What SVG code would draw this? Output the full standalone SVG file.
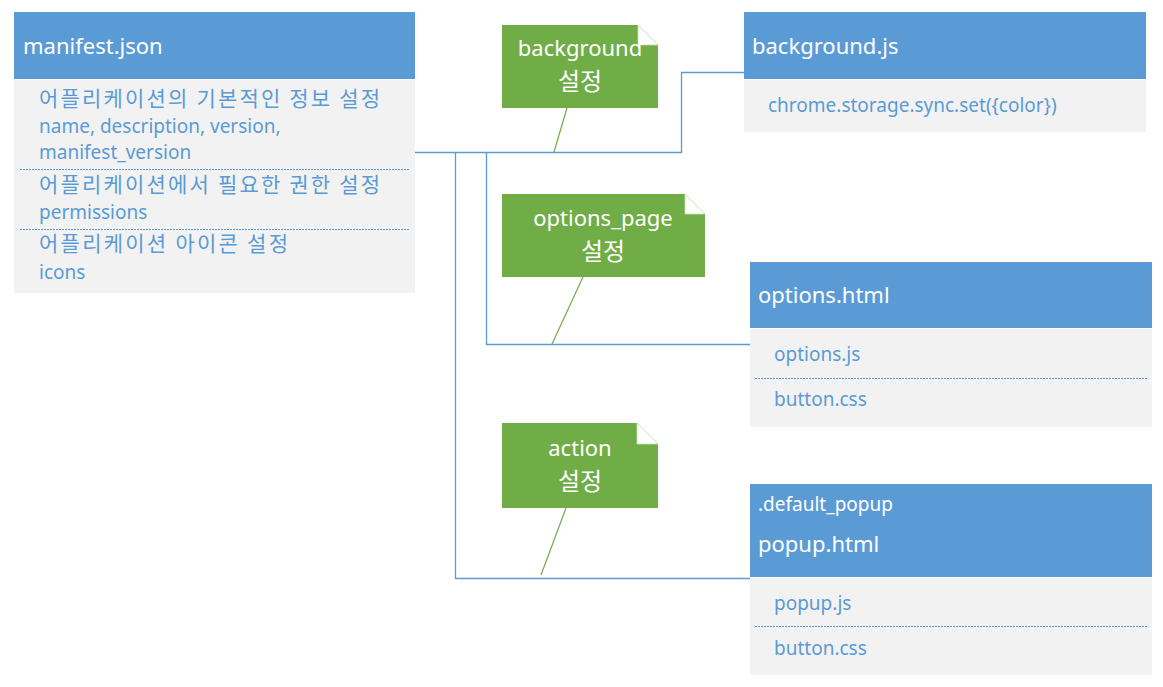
<svg xmlns="http://www.w3.org/2000/svg" width="1163" height="687" viewBox="0 0 1163 687">
<style>
.hdr{fill:#5B9BD5}
.body{fill:#F2F2F2}
.ht{font-family:"Noto Sans","Noto Sans CJK KR",sans-serif;fill:#FFFFFF;font-size:22px}
.bt{font-family:"Noto Sans","Noto Sans CJK KR",sans-serif;fill:#5B9BD5;font-size:19px}
.kt{font-family:"Noto Sans CJK KR","Noto Sans",sans-serif;fill:#5B9BD5;font-size:21px}
.note{fill:#70AD47}
.nt{font-family:"Noto Sans","Noto Sans CJK KR",sans-serif;fill:#FFFFFF;font-size:22px;text-anchor:middle}
.nk{font-family:"Noto Sans CJK KR","Noto Sans",sans-serif;fill:#FFFFFF;font-size:24px;text-anchor:middle}
.dash{stroke:#5B9BD5;stroke-width:1;stroke-dasharray:2 1}
.conn{fill:none;stroke:#5B9BD5;stroke-width:1.3}
.call{stroke:#70AD47;stroke-width:1.2}
.ear{fill:#FFFFFF;stroke:#C5E0B4;stroke-width:0.8}
</style>
<g id="connectors">
<polyline class="conn" points="415,152.5 681.5,152.5 681.5,72.5 744,72.5"/>
<polyline class="conn" points="486.5,152.5 486.5,344.5 750,344.5"/>
<polyline class="conn" points="455.5,152.5 455.5,578.5 750,578.5"/>
</g>
<g id="manifest">
<rect class="hdr" x="14" y="12" width="401" height="67"/>
<rect class="body" x="14" y="80" width="401" height="213"/>
<text class="ht" x="23" y="54">manifest.json</text>
<text class="kt" x="39" y="106" textLength="341" lengthAdjust="spacing">어플리케이션의 기본적인 정보 설정</text>
<text class="bt" x="39" y="133">name, description, version,</text>
<text class="bt" x="39" y="159">manifest_version</text>
<line class="dash" x1="20" y1="169.5" x2="410" y2="169.5"/>
<text class="kt" x="39" y="192" textLength="341" lengthAdjust="spacing">어플리케이션에서 필요한 권한 설정</text>
<text class="bt" x="39" y="219">permissions</text>
<line class="dash" x1="20" y1="229.5" x2="410" y2="229.5"/>
<text class="kt" x="39" y="251" textLength="249" lengthAdjust="spacing">어플리케이션 아이콘 설정</text>
<text class="bt" x="39" y="279">icons</text>
</g>
<g id="note-background">
<line class="call" x1="567" y1="108" x2="554" y2="152"/>
<polygon class="note" points="502,25 638,25 658,45 658,108 502,108"/>
<polygon class="ear" points="638,25 658,45 638,45"/>
<text class="nt" x="580" y="56">background</text>
<text class="nk" x="580" y="90">설정</text>
</g>
<g id="note-options">
<line class="call" x1="583" y1="277" x2="552" y2="344"/>
<polygon class="note" points="502,194 685,194 705,214 705,277 502,277"/>
<polygon class="ear" points="685,194 705,214 685,214"/>
<text class="nt" x="603" y="226">options_page</text>
<text class="nk" x="603" y="260">설정</text>
</g>
<g id="note-action">
<line class="call" x1="566" y1="508" x2="541" y2="575"/>
<polygon class="note" points="502,423 637,423 658,444 658,508 502,508"/>
<polygon class="ear" points="637,423 658,444 637,444"/>
<text class="nt" x="580" y="456">action</text>
<text class="nk" x="580" y="490">설정</text>
</g>
<g id="background-js">
<rect class="hdr" x="744" y="12" width="402" height="67"/>
<rect class="body" x="744" y="80" width="402" height="52"/>
<text class="ht" x="752" y="54">background.js</text>
<text class="bt" x="768" y="112">chrome.storage.sync.set({color})</text>
</g>
<g id="options-html">
<rect class="hdr" x="750" y="262" width="402" height="66"/>
<rect class="body" x="750" y="329" width="402" height="98"/>
<text class="ht" x="758" y="303">options.html</text>
<text class="bt" x="774" y="361">options.js</text>
<line class="dash" x1="755" y1="378.5" x2="1147" y2="378.5"/>
<text class="bt" x="774" y="406">button.css</text>
</g>
<g id="popup-html">
<rect class="hdr" x="750" y="484" width="402" height="93"/>
<rect class="body" x="750" y="578" width="402" height="97"/>
<text class="ht" x="758" y="511" style="font-size:19px">.default_popup</text>
<text class="ht" x="758" y="552">popup.html</text>
<text class="bt" x="774" y="610">popup.js</text>
<line class="dash" x1="755" y1="626.5" x2="1147" y2="626.5"/>
<text class="bt" x="774" y="655">button.css</text>
</g>
</svg>
